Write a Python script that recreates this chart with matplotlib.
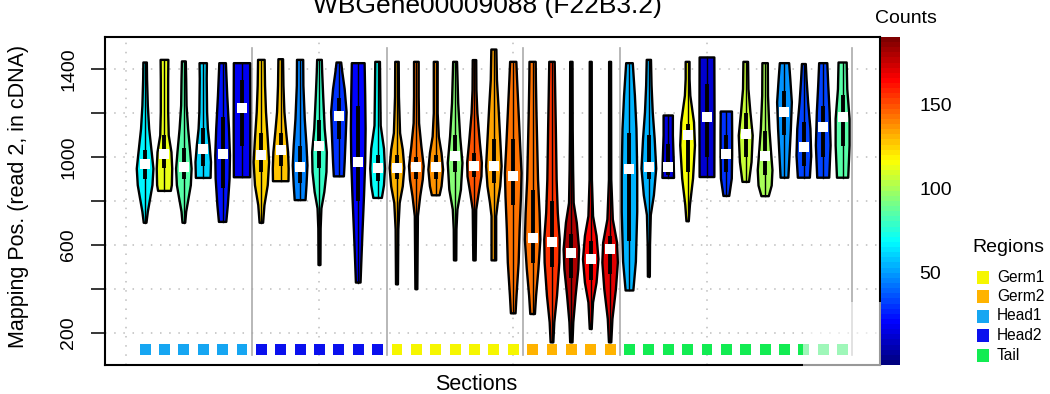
import matplotlib
matplotlib.use("Agg")
import matplotlib.pyplot as plt
from matplotlib.colors import LinearSegmentedColormap, Normalize
from matplotlib.cm import ScalarMappable
from matplotlib.patches import Polygon, Rectangle

plt.rcParams['font.family'] = ['Liberation Sans', 'DejaVu Sans']

# ---------------- data ----------------
title = "WBGene00009088 (F22B3.2)"
region_names = ["Germ1", "Germ2", "Head1", "Head2", "Tail"]
region_colors = ["#F6F600", "#FFB300", "#16A6F2", "#0A10EE", "#12EC52"]

section_region = ["Head1", "Head1", "Head1", "Head1", "Head1", "Head1",
                  "Head2", "Head2", "Head2", "Head2", "Head2", "Head2", "Head2",
                  "Germ1", "Germ1", "Germ1", "Germ1", "Germ1", "Germ1", "Germ1",
                  "Germ2", "Germ2", "Germ2", "Germ2", "Germ2",
                  "Tail", "Tail", "Tail", "Tail", "Tail", "Tail",
                  "Tail", "Tail", "Tail", "Tail", "Tail", "Tail"]

counts = [68, 113, 84, 60, 23, 17,
          125, 129, 45, 80, 29, 21, 70,
          131, 144, 136, 93, 148, 134, 142,
          144, 156, 180, 166, 172,
          54, 56, 15, 117, 12, 29, 107, 99, 49, 33, 33, 86]

medians = [970, 1015, 955, 1038, 1015, 1223,
           1007, 1033, 955, 1050, 1186, 977, 950,
           950, 953, 955, 1006, 958, 958, 915,
           630, 613, 565, 538, 580,
           947, 955, 955, 1101, 1184, 1012, 1106, 1003, 1207, 1045, 1136, 1184]

q1 = [900, 950, 900, 960, 860, 1050,
      930, 960, 880, 950, 1080, 800, 890,
      900, 900, 900, 930, 910, 880, 780,
      520, 500, 450, 440, 470,
      620, 900, 920, 930, 1000, 930, 1000, 920, 1100, 960, 1000, 1050]

q3 = [1030, 1100, 1040, 1130, 1180, 1350,
      1110, 1110, 1050, 1170, 1270, 1230, 1010,
      1010, 1000, 1010, 1100, 1020, 1080, 1080,
      850, 800, 650, 620, 640,
      1110, 1100, 1060, 1150, 1330, 1100, 1200, 1120, 1300, 1160, 1230, 1280]

# violin outlines: (mapping position, half width in section units), bottom -> top
head1_profiles = [
    [(701, .07), (751, .14), (811, .26), (872, .38), (947, .43), (1022, .34), (1128, .21), (1234, .14), (1355, .10), (1430, .09)],
    [(846, .33), (872, .38), (947, .40), (1022, .36), (1098, .22), (1204, .19), (1355, .19), (1442, .20)],
    [(701, .07), (751, .12), (811, .24), (872, .36), (947, .40), (1022, .33), (1128, .22), (1234, .14), (1355, .12), (1435, .10)],
    [(905, .38), (977, .40), (1053, .33), (1128, .24), (1204, .20), (1355, .18), (1427, .19)],
    [(705, .19), (781, .27), (902, .36), (1007, .38), (1128, .33), (1279, .24), (1427, .17)],
    [(908, .42), (1160, .43), (1427, .42)],
]
head2_profiles = [
    [(701, .09), (781, .16), (872, .33), (977, .40), (1083, .33), (1204, .24), (1325, .19), (1442, .17)],
    [(890, .40), (947, .41), (1022, .38), (1113, .28), (1204, .19), (1325, .14), (1445, .12)],
    [(804, .28), (872, .33), (962, .38), (1053, .33), (1173, .24), (1325, .17), (1442, .16)],
    [(509, .05), (675, .06), (766, .10), (841, .25), (932, .36), (1022, .38), (1128, .27), (1279, .19), (1385, .14), (1442, .12)],
    [(912, .26), (977, .30), (1083, .35), (1204, .40), (1309, .30), (1385, .18), (1430, .12)],
    [(429, .12), (524, .16), (660, .22), (826, .30), (977, .36), (1128, .38), (1279, .36), (1427, .33)],
    [(814, .22), (872, .33), (947, .38), (1038, .33), (1143, .16), (1279, .14), (1433, .12)],
]
germ1_profiles = [
    [(421, .05), (671, .07), (791, .14), (867, .30), (950, .38), (1033, .30), (1109, .16), (1275, .10), (1433, .09)],
    [(399, .05), (731, .08), (822, .20), (897, .33), (958, .38), (1048, .26), (1154, .14), (1275, .12), (1433, .12)],
    [(826, .20), (867, .30), (942, .38), (1018, .30), (1093, .16), (1199, .10), (1433, .10)],
    [(530, .06), (671, .07), (761, .12), (852, .30), (973, .38), (1093, .26), (1245, .16), (1433, .10)],
    [(530, .06), (761, .09), (837, .22), (912, .36), (973, .38), (1063, .28), (1199, .15), (1305, .10), (1441, .09)],
    [(530, .12), (731, .12), (791, .20), (867, .33), (958, .40), (1078, .33), (1229, .24), (1350, .16), (1489, .13)],
    [(289, .12), (369, .17), (520, .28), (671, .33), (822, .40), (927, .43), (1048, .36), (1199, .28), (1350, .20), (1433, .16)],
]
germ2_profiles = [
    [(286, .12), (369, .18), (490, .30), (625, .40), (746, .36), (897, .28), (1048, .24), (1199, .20), (1350, .17), (1433, .16)],
    [(157, .07), (248, .12), (369, .26), (520, .38), (625, .40), (746, .30), (897, .24), (1124, .20), (1275, .17), (1433, .14)],
    [(157, .06), (248, .10), (369, .22), (490, .36), (580, .40), (701, .28), (791, .12), (943, .09), (1124, .07), (1433, .06)],
    [(218, .05), (338, .12), (429, .30), (535, .40), (641, .30), (731, .12), (897, .06), (1433, .05)],
    [(157, .06), (263, .12), (399, .30), (520, .40), (610, .36), (716, .14), (897, .06), (1433, .05)],
]
tail_profiles = [
    [(393, .20), (524, .33), (751, .40), (932, .40), (1128, .36), (1279, .28), (1427, .17)],
    [(456, .05), (600, .06), (736, .10), (826, .26), (947, .38), (1083, .30), (1204, .20), (1325, .14), (1442, .11)],
    [(905, .30), (992, .28), (1098, .24), (1189, .24)],
    [(708, .06), (781, .12), (902, .28), (1053, .38), (1158, .33), (1279, .14), (1355, .10), (1433, .10)],
    [(909, .38), (1180, .39), (1453, .38)],
    [(823, .15), (902, .28), (1007, .30), (1113, .30), (1207, .29)],
    [(887, .17), (977, .30), (1098, .36), (1204, .24), (1309, .14), (1433, .12)],
    [(822, .19), (870, .34), (940, .38), (1030, .30), (1128, .22), (1279, .15), (1427, .14)],
    [(906, .20), (1007, .26), (1128, .33), (1249, .38), (1355, .30), (1427, .24)],
    [(906, .31), (1007, .38), (1128, .34), (1249, .22), (1355, .14), (1423, .10)],
    [(906, .31), (1053, .38), (1204, .33), (1325, .26), (1427, .21)],
    [(906, .29), (1053, .36), (1173, .36), (1309, .24), (1430, .21)],
]

group_separators = [6.5, 13.5, 20.5, 25.5, 37.5]
separator_span = [100, 1495]
region_marker_y = 123
cbar_ticks = [50, 100, 150]
count_range = [-5, 190.5]
jet_colors = ['#00007F', '#0000FF', '#007FFF', '#00FFFF', '#7FFF7F',
              '#FFFF00', '#FF7F00', '#FF0000', '#7F0000']

# ---------------- figure ----------------
W, H = 1050, 394
fig = plt.figure(figsize=(W / 100, H / 100), dpi=100)


def fx(px):
    return px / W


def fy(py):
    return 1 - py / H


ax = fig.add_axes([fx(105), fy(365), (880 - 105) / W, (365 - 37) / H])
cmap = LinearSegmentedColormap.from_list('jetcols', jet_colors, N=64)
norm = Normalize(vmin=count_range[0], vmax=count_range[1])

profiles = head1_profiles + head2_profiles + germ1_profiles + germ2_profiles + tail_profiles
xs = list(range(1, len(profiles) + 1))

ax.set_xlim(-1.07, 38.93)
ax.set_ylim(54, 1546)

# grid
ax.set_xticks([0, 10, 20, 30])
ax.set_yticks([200, 400, 600, 800, 1000, 1200, 1400])
ax.set_yticklabels(['200', '', '600', '', '1000', '', '1400'])
ax.grid(True, linestyle=(0, (1, 5)), color='#BDBDBD', linewidth=1.1, zorder=0)
ax.set_axisbelow(True)
ax.tick_params(axis='x', length=0, labelbottom=False)
ax.tick_params(axis='y', length=10, width=1.1, labelsize=14, pad=10, labelrotation=90)
for lbl in ax.get_yticklabels():
    lbl.set_va('center')
    lbl.set_ha('right')
for s in ax.spines.values():
    s.set_linewidth(1.5)

# group separators
for sx in group_separators:
    ax.plot([sx, sx], separator_span, color='#ABABAB', lw=1.2, zorder=1)

# violins
for x, prof, c, m, a, b in zip(xs, profiles, counts, medians, q1, q3):
    vals = [p[0] for p in prof]
    wids = [p[1] for p in prof]
    right = [(x + w, v) for v, w in zip(vals, wids)]
    left = [(x - w, v) for v, w in zip(vals[::-1], wids[::-1])]
    poly = Polygon(right + left, closed=True, facecolor=cmap(norm(c)),
                   edgecolor='black', lw=1.7, joinstyle='round', zorder=3)
    ax.add_patch(poly)
    ax.plot([x, x], [vals[0], vals[-1]], color='black', lw=1.0, zorder=4)
    ax.plot([x, x], [a, b], color='black', lw=2.8, solid_capstyle='butt', zorder=4)
    ax.plot([x], [m], marker='s', color='white', markersize=6.8,
            markeredgewidth=0, zorder=5)

# region markers along bottom
reg_col = dict(zip(region_names, region_colors))
ax.scatter(xs, [region_marker_y] * len(xs), marker='s', s=62,
           c=[reg_col[r] for r in section_region], linewidths=0, zorder=3)

# colorbar
cax = fig.add_axes([fx(881), fy(365), 19 / W, (365 - 37) / H])
cb = fig.colorbar(ScalarMappable(norm=norm, cmap=cmap), cax=cax)
cb.outline.set_visible(False)
cb.set_ticks(cbar_ticks)
cax.tick_params(length=0, labelsize=14, pad=14)
fig.text(fx(906), fy(23), "Counts", ha='center', va='baseline', fontsize=14)

# legend
fig.text(fx(972), fy(247), "Regions", ha='left', va='center', fontsize=14)
for i, (name, col) in enumerate(zip(region_names, region_colors)):
    yc = 277 + i * 19.5
    fig.add_artist(Rectangle((fx(977), fy(yc + 6.5)), 12 / W, 13 / H,
                             transform=fig.transFigure, facecolor=col,
                             edgecolor='none'))
    fig.text(fx(997), fy(yc), name, ha='left', va='center', fontsize=11.2)

# titles / labels
fig.text(fx(487), fy(13), title, ha='center', va='baseline', fontsize=19)
fig.text(fx(476), fy(390), "Sections", ha='center', va='baseline', fontsize=15.5)
fig.text(fx(19), fy(196), "Mapping Pos. (read 2, in cDNA)", ha='center',
         va='center', rotation=90, fontsize=15.5)

# faded corner seen in the reference picture
fig.add_artist(Rectangle((fx(803), fy(372)), (881 - 803) / W, (372 - 302) / H,
                         transform=fig.transFigure, facecolor='white',
                         alpha=0.6, edgecolor='none', zorder=10))

fig.savefig("out.png", dpi=100)
